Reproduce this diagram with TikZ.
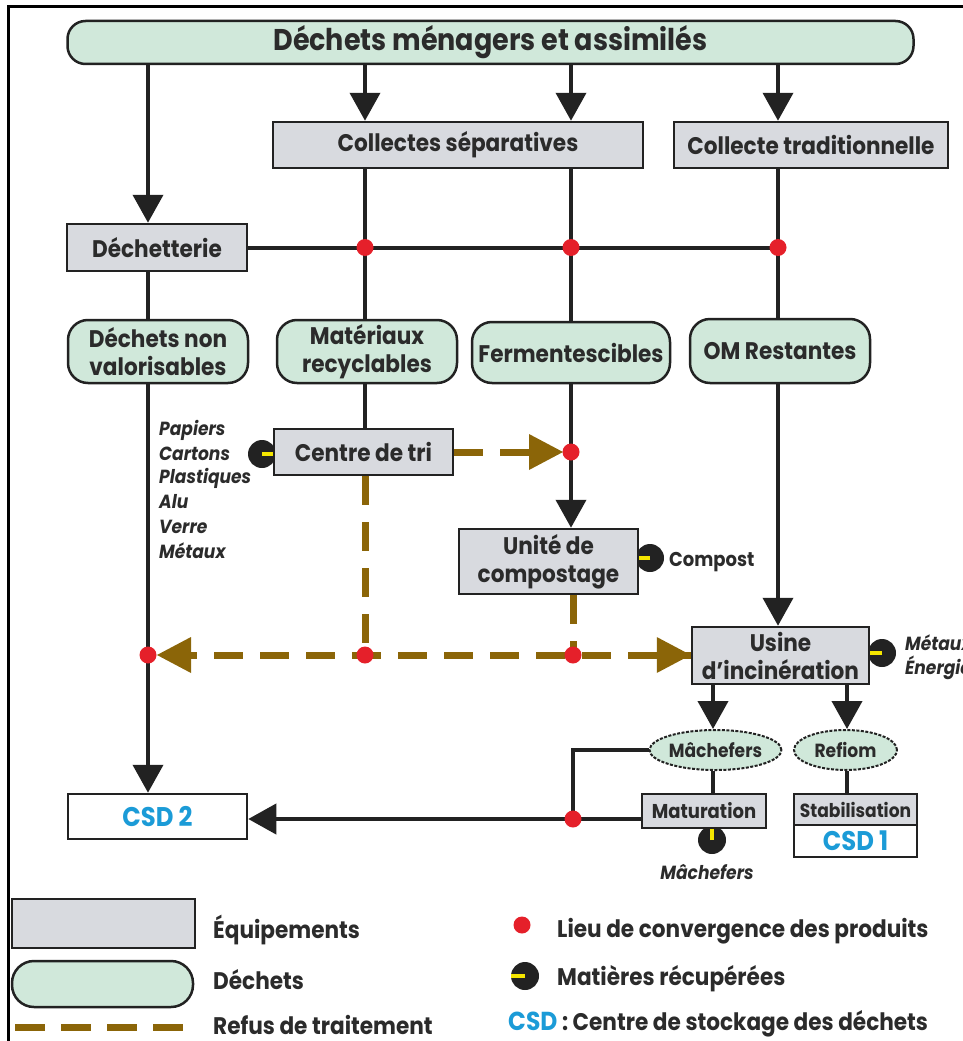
\documentclass[tikz,border=0pt]{standalone}
\usepackage{fontspec}
\setmainfont{Poppins}[FakeStretch=0.9]
\usetikzlibrary{arrows.meta,shapes.geometric,calc}
\definecolor{grayf}{HTML}{D8DADF}
\definecolor{greenf}{HTML}{D0E8DA}
\definecolor{brownc}{HTML}{8B6508}
\definecolor{redc}{HTML}{E5202A}
\definecolor{bluec}{HTML}{1B9BD7}
\definecolor{linec}{HTML}{222222}
\definecolor{textc}{HTML}{2B2B2B}
\definecolor{yelc}{HTML}{F5E600}
\newcommand\setfs[1]{\fontsize{#1}{28}\selectfont}
\tikzset{
  box/.style={draw=linec, line width=2.5pt, fill=grayf, inner sep=0pt, text=textc, font=\setfs{24}\bfseries},
  pill/.style={draw=linec, line width=2.5pt, fill=greenf, rounded corners=20pt, inner sep=0pt, text=textc, align=center, font=\setfs{24}\bfseries},
  oval/.style={ellipse, draw=linec, line width=2pt, dash pattern=on 3pt off 1.5pt, fill=greenf, inner sep=0pt, text=textc, font=\setfs{19}\bfseries},
  wbox/.style={draw=linec, line width=2.5pt, fill=white, inner sep=0pt, text=bluec, font=\setfs{27}\bfseries},
  ln/.style={draw=linec, line width=4pt},
  arr/.style={ln, -{Triangle[length=28pt,width=30pt]}},
  dsh/.style={draw=brownc, line width=7pt, dash pattern=on 29pt off 17pt},
  barr/.style={-{Triangle[length=34pt,width=36pt]}},
  rdot/.style={circle, fill=redc, inner sep=0pt, minimum size=17pt},
  bdot/.style={circle, fill=linec, inner sep=0pt, minimum size=28pt},
  ybar/.style={draw=yelc, line width=4pt},
  lbl/.style={text=textc, inner sep=0pt, font=\setfs{24}\bfseries},
  itl/.style={text=textc, inner sep=0pt, font=\setfs{19}\bfseries\itshape},
}
\begin{document}
\begin{tikzpicture}[x=1pt,y=-1pt]
\useasboundingbox (0,0) rectangle (962,1041);
% frame
\draw[line width=3pt, draw=black] (8,1045) -- (8,6.5) -- (966,6.5);
% column coordinates
\coordinate (cA) at (148,0);
\coordinate (cB) at (365,0);
\coordinate (cC) at (571,0);
\coordinate (cD) at (778,0);
\coordinate (cE) at (713,0);
\coordinate (cF) at (847,0);
% recovery dots (under boxes)
\node[bdot] (rtri) at (262,454) {};
\draw[ybar] (rtri.center) -- ++(14,0);
\node[bdot] (rcomp) at (650,558) {};
\draw[ybar] (rcomp.center) -- ++(-14,0);
\node[bdot] (rusine) at (882,653) {};
\draw[ybar] (rusine.center) -- ++(-14,0);
\node[bdot] (rmatur) at (712,840) {};
\draw[ybar] (rmatur.center) -- ++(0,-14);
% main nodes
\node[pill, rounded corners=18pt, minimum width=846pt, minimum height=43pt, font=\setfs{30}\bfseries] (top) at (490.5,42.5) {Déchets ménagers et assimilés};
\node[box, minimum width=370pt, minimum height=46pt] (colsep) at (458,145) {Collectes séparatives};
\node[box, minimum width=274pt, minimum height=46pt] (coltrad) at (811,145) {Collecte traditionnelle};
\node[box, minimum width=180pt, minimum height=47pt] (dechet) at (157,247.5) {Déchetterie};
\node[pill, minimum width=180pt, minimum height=63pt] (dnv) at (158,351.5) {Déchets non\\valorisables};
\node[pill, minimum width=180pt, minimum height=63pt] (mat) at (367,351.5) {Matériaux\\recyclables};
\node[pill, minimum width=198pt, minimum height=61pt] (ferm) at (571,352.5) {Fermentescibles};
\node[pill, minimum width=180pt, minimum height=64pt] (om) at (780,351) {OM Restantes};
\node[box, minimum width=179pt, minimum height=46pt] (tri) at (363.5,452) {Centre de tri};
\node[box, minimum width=179pt, minimum height=65pt, align=center] (compost) at (548.5,561.5) {Unité de\\compostage};
\node[box, minimum width=177pt, minimum height=57pt, align=center] (usine) at (780.5,655.5) {Usine\\d'incinération};
\node[wbox, minimum width=179pt, minimum height=45pt] (csd2) at (157.5,816.5) {CSD 2};
\node[oval, minimum width=109pt, minimum height=40pt] (mach) at (715.5,750) {Mâchefers};
\node[oval, minimum width=103pt, minimum height=40pt] (refiom) at (845.5,750) {Refiom};
\node[box, minimum width=124pt, minimum height=34pt, font=\setfs{20}\bfseries] (matur) at (704,811) {Maturation};
\node[box, minimum width=123pt, minimum height=31pt, font=\setfs{19}\bfseries] (stab) at (855.5,809.5) {Stabilisation};
\node[wbox, minimum width=123pt, minimum height=32pt] (csd1) at (855.5,841) {CSD 1};
% connectors
\draw[arr] (top.south -| cA) -- (dechet.north -| cA);
\draw[arr] (top.south -| cB) -- (colsep.north -| cB);
\draw[arr] (top.south -| cC) -- (colsep.north -| cC);
\draw[arr] (top.south -| cD) -- (coltrad.north -| cD);
\draw[ln] (dechet.east) -- (dechet.east -| cD);
\draw[ln] (colsep.south -| cB) -- (mat.north -| cB);
\draw[ln] (colsep.south -| cC) -- (ferm.north -| cC);
\draw[ln] (coltrad.south -| cD) -- (om.north -| cD);
\draw[ln] (dechet.south -| cA) -- (dnv.north -| cA);
\draw[arr] (dnv.south -| cA) -- (csd2.north -| cA);
\draw[ln] (mat.south -| cB) -- (tri.north -| cB);
\draw[arr] (ferm.south -| cC) -- (compost.north -| cC);
\draw[arr] (om.south -| cD) -- (usine.north -| cD);
\coordinate (pT) at (tri.east -| cC);
\coordinate (pL1) at (148,655);
\coordinate (pL2) at (365,655);
\coordinate (pL3) at (573,655);
\draw[dsh] (tri.east) -- ($(pT)+(-34,0)$);
\draw[draw=brownc, fill=brownc, line width=0pt, barr, shorten >=8pt] ($(pT)+(-35,0)$) -- (pT);
\draw[dsh] (tri.south -| pL2) -- (pL2);
\draw[dsh] (compost.south -| pL3) -- (pL3);
\draw[dsh, dash phase=12pt] (usine.west |- pL3) -- ($(pL1)+(40,0)$);
\draw[draw=brownc, fill=brownc, line width=0pt, barr, shorten >=9pt] ($(pL1)+(44,0)$) -- (pL1);
\draw[draw=brownc, fill=brownc, line width=0pt, barr] ($(usine.west |- pL3)+(-35,0)$) -- (usine.west |- pL3);
\draw[arr] (usine.south -| cE) -- (mach.north -| cE);
\draw[arr] (usine.south -| cF) -- (refiom.north -| cF);
\draw[ln] (mach.south -| cE) -- (matur.north -| cE);
\draw[ln] (refiom.south -| cF) -- (stab.north -| cF);
\coordinate (pM) at (573,819);
\draw[ln] (mach.west) -| (pM);
\draw[arr] (matur.west |- pM) -- (csd2.east |- pM);
% red dots
\node[rdot] (d1) at (dechet.east -| cB) {};
\node[rdot] (d2) at (dechet.east -| cC) {};
\node[rdot] (d3) at (dechet.east -| cD) {};
\node[rdot] (d4) at (pT) {};
\node[rdot] (d5) at (pL1) {};
\node[rdot] (d6) at (pL2) {};
\node[rdot] (d7) at (pL3) {};
\node[rdot] (d8) at (pM) {};
% free texts
\node[itl, anchor=west] (t1) at (159,430) {Papiers};
\node[itl, anchor=west] (t2) at (159,454) {Cartons};
\node[itl, anchor=west] (t3) at (159,478) {Plastiques};
\node[itl, anchor=west] (t4) at (159,502) {Alu};
\node[itl, anchor=west] (t5) at (159,527) {Verre};
\node[itl, anchor=west] (t6) at (159,551) {Métaux};
\node[lbl, anchor=west, font=\setfs{20}\bfseries] (t7) at (669,562) {Compost};
\node[itl, anchor=west] (t8) at (905,643) {Métaux};
\node[itl, anchor=west] (t9) at (905,668) {Énergie};
\node[itl] (t10) at (707,872) {Mâchefers};
% legend
\node[box, minimum width=183pt, minimum height=49pt] (lgbox) at (103.5,923.5) {};
\node[pill, rounded corners=22pt, minimum width=181pt, minimum height=46pt] (lgpill) at (102.5,984) {};
\coordinate (ld1) at (15,1027);
\coordinate (ld2) at (183,1027);
\draw[dsh, dash pattern=on 30pt off 16pt] (ld1) -- (ld2);
\node[lbl, anchor=west] (l1) at (213,930) {Équipements};
\node[lbl, anchor=west] (l2) at (213,980) {Déchets};
\node[lbl, anchor=west] (l3) at (213,1025) {Refus de traitement};
\node[rdot] (l4) at (522,925) {};
\node[lbl, anchor=west] (l5) at (557,931) {Lieu de convergence des produits};
\node[bdot] (l6) at (525,976) {};
\draw[ybar] (l6.center) -- ++(-14,0);
\node[lbl, anchor=west] (l7) at (557,979) {Matières récupérées};
\node[lbl, anchor=west] (l8) at (508,1024) {\textcolor{bluec}{\fontsize{26}{28}\selectfont CSD} : Centre de stockage des déchets};
\end{tikzpicture}
\end{document}
